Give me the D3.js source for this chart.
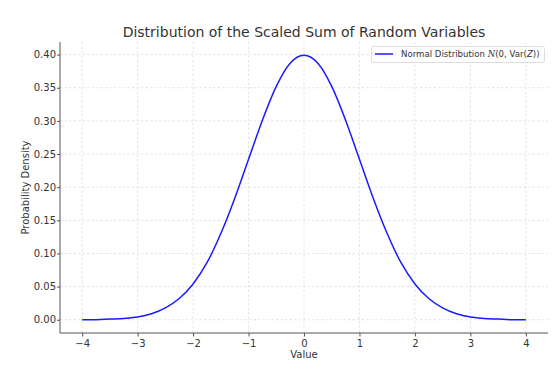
<!DOCTYPE html>
<html>
<head>
<meta charset="utf-8">
<script src="https://cdn.jsdelivr.net/npm/d3@7"></script>
<style>
  body { margin: 0; background: #fff; }
  text { font-family: "DejaVu Sans", sans-serif; fill: #333; }
  .grid line { stroke: #ddd; stroke-dasharray: 2.5,2; stroke-width: 0.8; }
  .axis path, .axis line { stroke: #555; }
</style>
</head>
<body>
<div id="chart"></div>
<script>
var width = 553,
    height = 369;

// values
var xValues = [-4, -3.75, -3.5, -3.25, -3, -2.75, -2.5, -2.25, -2, -1.75, -1.5, -1.25, -1, -0.75, -0.5, -0.25,
               0, 0.25, 0.5, 0.75, 1, 1.25, 1.5, 1.75, 2, 2.25, 2.5, 2.75, 3, 3.25, 3.5, 3.75, 4];
var density = [0.000, 0.000, 0.001, 0.002, 0.004, 0.009, 0.018, 0.032, 0.054, 0.086, 0.130, 0.183, 0.242, 0.301, 0.352, 0.387,
               0.399, 0.387, 0.352, 0.301, 0.242, 0.183, 0.130, 0.086, 0.054, 0.032, 0.018, 0.009, 0.004, 0.002, 0.001, 0.000, 0.000];
var xTicks = [-4, -3, -2, -1, 0, 1, 2, 3, 4];
var yTicks = [0, 0.05, 0.10, 0.15, 0.20, 0.25, 0.30, 0.35, 0.40];

var margin = {top: 42, right: 5, bottom: 36, left: 60};

var svg = d3.select("#chart")
    .append("svg")
    .attr("width", width)
    .attr("height", height);

var x = d3.scaleLinear()
    .domain([-4.4, 4.4])
    .range([margin.left, width - margin.right]);

var y = d3.scaleLinear()
    .domain([-0.02, 0.419])
    .range([height - margin.bottom, margin.top]);

// grid
svg.append("g").attr("class", "grid")
  .selectAll("line").data(xTicks).enter().append("line")
    .attr("x1", function(d) { return x(d); })
    .attr("x2", function(d) { return x(d); })
    .attr("y1", margin.top)
    .attr("y2", height - margin.bottom);

svg.append("g").attr("class", "grid")
  .selectAll("line").data(yTicks).enter().append("line")
    .attr("x1", margin.left)
    .attr("x2", width - margin.right)
    .attr("y1", function(d) { return y(d); })
    .attr("y2", function(d) { return y(d); });

// axes
var xAxis = svg.append("g")
    .attr("class", "axis")
    .attr("transform", "translate(0," + (height - margin.bottom) + ")")
    .call(d3.axisBottom(x).tickValues(xTicks).tickSize(3.5).tickPadding(3)
      .tickFormat(function(d) { return d < 0 ? "\u2212" + Math.abs(d) : d; }));

var yAxis = svg.append("g")
    .attr("class", "axis")
    .attr("transform", "translate(" + margin.left + ",0)")
    .call(d3.axisLeft(y).tickValues(yTicks).tickSize(3).tickPadding(1)
      .tickFormat(d3.format(".2f")));

xAxis.select(".domain").attr("d", "M" + margin.left + ",0H" + (width - margin.right));
yAxis.select(".domain").attr("d", "M0," + margin.top + "V" + (height - margin.bottom));
svg.selectAll(".axis text").style("font-size", "10px").attr("fill", "#333");

// curve
var line = d3.line()
    .x(function(d, i) { return x(xValues[i]); })
    .y(function(d) { return y(d); })
    .curve(d3.curveMonotoneX);

svg.append("path")
    .datum(density)
    .attr("d", line)
    .attr("fill", "none")
    .attr("stroke", "#1a1aff")
    .attr("stroke-width", 1.5);

// title and labels
svg.append("text")
    .attr("x", (margin.left + width - margin.right) / 2)
    .attr("y", 37)
    .attr("text-anchor", "middle")
    .style("font-size", "14px")
    .text("Distribution of the Scaled Sum of Random Variables");

svg.append("text")
    .attr("x", (margin.left + width - margin.right) / 2)
    .attr("y", 358)
    .attr("text-anchor", "middle")
    .style("font-size", "10px")
    .text("Value");

svg.append("text")
    .attr("transform", "translate(29," + ((margin.top + height - margin.bottom) / 2) + ") rotate(-90)")
    .attr("text-anchor", "middle")
    .style("font-size", "10px")
    .text("Probability Density");

// legend
var legend = svg.append("g").attr("class", "legend");

legend.append("rect")
    .attr("x", 371.5)
    .attr("y", 46.5)
    .attr("width", 173)
    .attr("height", 16)
    .attr("rx", 2)
    .attr("fill", "#fff")
    .attr("stroke", "#ddd");

legend.append("line")
    .attr("x1", 375)
    .attr("x2", 393)
    .attr("y1", 54)
    .attr("y2", 54)
    .attr("stroke", "#1a1aff")
    .attr("stroke-width", 1.5);

var lt = legend.append("text")
    .attr("x", 401)
    .attr("y", 57)
    .style("font-size", "8.6px");
lt.append("tspan").text("Normal Distribution ");
lt.append("tspan").style("font-style", "italic").style("font-family", "DejaVu Serif").text("N");
lt.append("tspan").text("(0, Var(");
lt.append("tspan").style("font-style", "italic").text("Z");
lt.append("tspan").text("))");
</script>
</body>
</html>
